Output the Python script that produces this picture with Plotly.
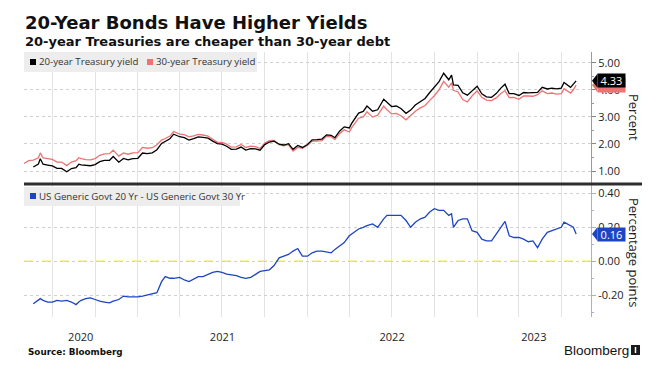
import plotly.graph_objects as go
import pandas as pd

# ---------------- data ----------------
dates = [
    "2020-05-01", "2020-05-11", "2020-05-21", "2020-06-01", "2020-06-05", "2020-06-11", "2020-06-21", "2020-07-01", "2020-07-11", "2020-07-21",
    "2020-08-01", "2020-08-11", "2020-08-21", "2020-08-27", "2020-09-01", "2020-09-11", "2020-09-21", "2020-10-01", "2020-10-11", "2020-10-21",
    "2020-11-01", "2020-11-09", "2020-11-21", "2020-12-01", "2020-12-11", "2020-12-21", "2021-01-01", "2021-01-11", "2021-01-21", "2021-02-01",
    "2021-02-11", "2021-02-21", "2021-03-01", "2021-03-11", "2021-03-19", "2021-04-01", "2021-04-11", "2021-04-21", "2021-05-01", "2021-05-11",
    "2021-05-21", "2021-06-01", "2021-06-11", "2021-06-21", "2021-07-01", "2021-07-11", "2021-07-21", "2021-08-01", "2021-08-11", "2021-08-21",
    "2021-09-01", "2021-09-11", "2021-09-21", "2021-10-01", "2021-10-11", "2021-10-21", "2021-11-01", "2021-11-11", "2021-11-21", "2021-12-01",
    "2021-12-11", "2021-12-21", "2022-01-01", "2022-01-11", "2022-01-21", "2022-02-01", "2022-02-11", "2022-02-21", "2022-03-01", "2022-03-11",
    "2022-03-21", "2022-04-01", "2022-04-06", "2022-04-11", "2022-04-21", "2022-05-01", "2022-05-09", "2022-05-21", "2022-06-01", "2022-06-14",
    "2022-06-21", "2022-07-01", "2022-07-11", "2022-07-21", "2022-08-01", "2022-08-11", "2022-08-21", "2022-09-01", "2022-09-11", "2022-09-21",
    "2022-10-01", "2022-10-11", "2022-10-21", "2022-11-01", "2022-11-07", "2022-11-11", "2022-11-21", "2022-12-01", "2022-12-11", "2022-12-21",
    "2023-01-01", "2023-01-11", "2023-01-21", "2023-02-01", "2023-02-11", "2023-02-21", "2023-03-02", "2023-03-11", "2023-03-21", "2023-04-01",
    "2023-04-11", "2023-04-21", "2023-05-01", "2023-05-11", "2023-05-21", "2023-06-01", "2023-06-11", "2023-06-21", "2023-07-01", "2023-07-07",
    "2023-07-21", "2023-07-27", "2023-08-02",
]

yield_30y = [
    1.28, 1.38, 1.40, 1.49, 1.67, 1.48, 1.46, 1.43, 1.33, 1.33,
    1.20, 1.33, 1.38, 1.49, 1.46, 1.42, 1.41, 1.46, 1.58, 1.63,
    1.64, 1.77, 1.55, 1.67, 1.62, 1.67, 1.68, 1.87, 1.84, 1.86,
    1.97, 2.14, 2.20, 2.29, 2.46, 2.36, 2.34, 2.26, 2.30, 2.35,
    2.33, 2.29, 2.17, 2.07, 2.06, 1.99, 1.88, 1.89, 1.98, 1.87,
    1.92, 1.90, 1.83, 2.03, 2.12, 2.13, 1.97, 1.93, 1.97, 1.74,
    1.87, 1.84, 1.95, 2.10, 2.10, 2.12, 2.28, 2.27, 2.16, 2.38,
    2.52, 2.44, 2.60, 2.73, 2.95, 3.00, 3.19, 2.99, 3.06, 3.40,
    3.26, 3.11, 3.13, 3.04, 2.89, 3.05, 3.21, 3.33, 3.42, 3.61,
    3.78, 4.00, 4.31, 4.10, 4.26, 3.98, 3.92, 3.64, 3.55, 3.77,
    3.96, 3.72, 3.62, 3.60, 3.70, 3.86, 3.97, 3.71, 3.72, 3.65,
    3.77, 3.77, 3.76, 3.82, 3.96, 3.86, 3.88, 3.84, 3.86, 4.04,
    3.88, 4.00, 4.17,
]

yield_20y = [
    None, None, 1.15, 1.26, 1.45, 1.25, 1.22, 1.19, 1.10, 1.095,
    0.97, 1.09, 1.125, 1.25, 1.23, 1.20, 1.195, 1.235, 1.345, 1.39,
    1.395, 1.535, 1.325, 1.465, 1.41, 1.46, 1.47, 1.665, 1.64, 1.67,
    1.785, 2.02, 2.11, 2.19, 2.36, 2.265, 2.23, 2.14, 2.195, 2.26,
    2.24, 2.215, 2.105, 2.01, 1.995, 1.915, 1.80, 1.805, 1.885, 1.77,
    1.825, 1.82, 1.77, 1.975, 2.07, 2.105, 1.99, 1.96, 2.01, 1.80,
    1.945, 1.87, 1.98, 2.15, 2.16, 2.18, 2.335, 2.32, 2.23, 2.47,
    2.63, 2.59, 2.76, 2.90, 3.14, 3.20, 3.40, 3.21, 3.26, 3.65,
    3.53, 3.38, 3.40, 3.31, 3.13, 3.25, 3.44, 3.58, 3.68, 3.90,
    4.09, 4.30, 4.61, 4.37, 4.54, 4.18, 4.16, 3.89, 3.80, 3.95,
    4.13, 3.85, 3.74, 3.72, 3.86, 4.06, 4.205, 3.86, 3.86, 3.79,
    3.90, 3.885, 3.88, 3.90, 4.09, 4.03, 4.06, 4.03, 4.06, 4.27,
    4.09, 4.20, 4.33,
]

spread_20_30 = [
    None, None, -0.25, -0.23, -0.22, -0.23, -0.24, -0.24, -0.23, -0.235,
    -0.23, -0.24, -0.255, -0.24, -0.23, -0.22, -0.215, -0.225, -0.235, -0.24,
    -0.245, -0.235, -0.225, -0.205, -0.21, -0.21, -0.21, -0.205, -0.20, -0.19,
    -0.185, -0.12, -0.09, -0.10, -0.10, -0.095, -0.11, -0.12, -0.105, -0.09,
    -0.09, -0.075, -0.065, -0.06, -0.065, -0.075, -0.08, -0.085, -0.095, -0.10,
    -0.095, -0.08, -0.06, -0.055, -0.05, -0.025, 0.02, 0.03, 0.04, 0.06,
    0.075, 0.03, 0.03, 0.05, 0.06, 0.06, 0.055, 0.05, 0.07, 0.09,
    0.11, 0.15, 0.16, 0.17, 0.19, 0.20, 0.21, 0.22, 0.20, 0.25,
    0.27, 0.27, 0.27, 0.27, 0.24, 0.20, 0.23, 0.25, 0.26, 0.29,
    0.31, 0.30, 0.30, 0.27, 0.28, 0.20, 0.24, 0.25, 0.25, 0.18,
    0.17, 0.13, 0.12, 0.12, 0.16, 0.20, 0.235, 0.15, 0.14, 0.14,
    0.13, 0.115, 0.12, 0.08, 0.13, 0.17, 0.18, 0.19, 0.20, 0.23,
    0.21, 0.20, 0.16,
]

years = ["2020", "2021", "2022", "2023"]
top_ticks = [1, 2, 3, 4, 5]
bottom_ticks = [-0.2, 0.0, 0.2, 0.4]

# ---------------- layout helpers ----------------
# the page body keeps its default 8px margin, so the figure is drawn 8px in
# from the top-left corner; positions below are given in window pixels.
OFF = 8
W, H = 666 - OFF, 374 - OFF
def fx(p):
    return (p - OFF) / W
def fy(p):
    return 1 - (p - OFF) / H

x_range = ["2020-05-01", "2023-09-03"]
top_range = [0.557, 5.395]
bot_range = [-0.328, 0.449]
top_dom = [fy(183), fy(52)]
bot_dom = [fy(317), fy(185)]
x_dom = [fx(24), fx(591)]

BLACK = "#000000"
RED = "#ee7272"
BLUE = "#1d45c2"
YELLOW = "#f3e84e"
TICKFONT = dict(family="Open Sans", size=11, color="#222222")

# year label positions: centre of each visible calendar year
r0, r1 = pd.Timestamp(x_range[0]), pd.Timestamp(x_range[1])
year_centers = []
for y in years:
    a = max(pd.Timestamp(f"{y}-01-01"), r0)
    b = min(pd.Timestamp(f"{int(y)+1}-01-01"), r1)
    year_centers.append((a + (b - a) / 2).strftime("%Y-%m-%d"))

fig = go.Figure()
fig.add_trace(go.Scatter(x=dates, y=yield_30y, mode="lines", line=dict(color=RED, width=1.3),
                         xaxis="x", yaxis="y", name="30-year Treasury yield"))
fig.add_trace(go.Scatter(x=dates, y=yield_20y, mode="lines", line=dict(color=BLACK, width=1.3),
                         xaxis="x", yaxis="y", name="20-year Treasury yield"))
fig.add_trace(go.Scatter(x=dates, y=spread_20_30, mode="lines", line=dict(color=BLUE, width=1.3),
                         xaxis="x", yaxis="y2", name="US Generic Govt 20 Yr - US Generic Govt 30 Yr"))

fig.update_layout(
    width=W, height=H, autosize=False,
    margin=dict(l=0, r=0, t=0, b=0),
    paper_bgcolor="white", plot_bgcolor="white",
    showlegend=False,
    xaxis=dict(
        domain=x_dom, range=x_range, type="date", anchor="y2",
        showgrid=False, zeroline=False, showline=False,
        tickmode="array", tickvals=year_centers, ticktext=years,
        ticks="outside", ticklen=10, tickcolor="rgba(0,0,0,0)",
        tickfont=TICKFONT,
        minor=dict(dtick="M3", tick0="2020-07-01", showgrid=True, gridcolor="#e3e3e3", gridwidth=1, ticks=""),
    ),
    yaxis=dict(
        domain=top_dom, range=top_range, anchor="x", side="right",
        tickvals=top_ticks, ticktext=[f"{v:.2f}" for v in top_ticks],
        ticks="outside", ticklen=4, tickcolor="#888888",
        showline=True, linecolor="#9a9a9a", linewidth=1,
        showgrid=True, gridcolor="#cfcfcf", griddash="dot", gridwidth=1,
        zeroline=False, tickfont=TICKFONT,
        minor=dict(ticks="outside", ticklen=2, dtick=0.5, tick0=0, tickcolor="#9a9a9a", showgrid=False),
    ),
    yaxis2=dict(
        domain=bot_dom, range=bot_range, anchor="x", side="right",
        tickvals=bottom_ticks, ticktext=[f"{v:.2f}" for v in bottom_ticks],
        ticks="outside", ticklen=4, tickcolor="#9fb2d8",
        showline=True, linecolor="#9fb2d8", linewidth=1,
        showgrid=True, gridcolor="#cfcfcf", griddash="dot", gridwidth=1,
        zeroline=False, tickfont=TICKFONT,
        minor=dict(ticks="outside", ticklen=2, dtick=0.1, tick0=0, tickcolor="#9fb2d8", showgrid=False),
    ),
)

shapes = []
# yellow dashed zero line in the spread panel
shapes.append(dict(type="line", xref="paper", yref="y2", x0=x_dom[0], x1=x_dom[1], y0=0, y1=0,
                   line=dict(color=YELLOW, width=1.6, dash="dash"), layer="between"))
# separator between panels
shapes.append(dict(type="line", xref="paper", yref="paper", x0=fx(24), x1=fx(642), y0=fy(184), y1=fy(184),
                   line=dict(color="#2e2e2e", width=3)))
# legend boxes
shapes.append(dict(type="rect", xref="paper", yref="paper", x0=fx(24), x1=fx(257), y0=fy(72), y1=fy(52),
                   fillcolor="#ededed", line=dict(width=0), layer="above"))
shapes.append(dict(type="rect", xref="paper", yref="paper", x0=fx(24), x1=fx(240), y0=fy(206), y1=fy(187),
                   fillcolor="#ededed", line=dict(width=0), layer="above"))
# legend squares
for (x0, yc, col) in [(30, 62, BLACK), (147, 62, RED), (30, 196, BLUE)]:
    shapes.append(dict(type="rect", xref="paper", yref="paper", x0=fx(x0), x1=fx(x0 + 6), y0=fy(yc + 3), y1=fy(yc - 3),
                       fillcolor=col, line=dict(width=0), layer="above"))

# end-of-series value tags (pointer triangles; boxes are annotations)
top_pxu = (top_dom[1] - top_dom[0]) * H / (top_range[1] - top_range[0])
bot_pxu = (bot_dom[1] - bot_dom[0]) * H / (bot_range[1] - bot_range[0])
tags = [(yield_30y[-1], "y", top_pxu, RED, False),
        (yield_20y[-1], "y", top_pxu, BLACK, True),
        (spread_20_30[-1], "y2", bot_pxu, BLUE, True)]
for v, yr, pxu, col, _ in tags:
    dh = 7 / pxu
    shapes.append(dict(type="path", xref="paper", yref=yr,
                       path=f"M {fx(592)},{v} L {fx(597.5)},{v + dh} L {fx(597.5)},{v - dh} Z",
                       fillcolor=col, line=dict(width=0), layer="above"))

# Bloomberg icon
shapes.append(dict(type="rect", xref="paper", yref="paper", x0=fx(631), x1=fx(640), y0=fy(355), y1=fy(345),
                   fillcolor="#1a1a1a", line=dict(width=0)))
shapes.append(dict(type="line", xref="paper", yref="paper", x0=fx(635.5), x1=fx(635.5), y0=fy(353), y1=fy(347),
                   line=dict(color="white", width=1.5)))
fig.update_layout(shapes=shapes)

ann = []
ann.append(dict(text="<b>20-Year Bonds Have Higher Yields</b>", x=fx(23), y=fy(22), xanchor="left", yanchor="middle",
                font=dict(family="DejaVu Sans", size=18, color="#111111")))
ann.append(dict(text="<b>20-year Treasuries are cheaper than 30-year debt</b>", x=fx(23), y=fy(41.5), xanchor="left", yanchor="middle",
                font=dict(family="DejaVu Sans", size=13, color="#111111")))
LEGFONT = dict(family="Open Sans", size=9.7, color="#333333")
ann.append(dict(text="20-year Treasury yield", x=fx(36.5), y=fy(62), xanchor="left", yanchor="middle", font=LEGFONT))
ann.append(dict(text="30-year Treasury yield", x=fx(153.5), y=fy(62), xanchor="left", yanchor="middle", font=LEGFONT))
ann.append(dict(text="US Generic Govt 20 Yr - US Generic Govt 30 Yr", x=fx(36.5), y=fy(196), xanchor="left", yanchor="middle", font=LEGFONT))
ann.append(dict(text="Percent", textangle=90, x=fx(634), y=fy(117), xanchor="center", yanchor="middle",
                font=dict(family="Open Sans", size=13, color="#222222")))
ann.append(dict(text="Percentage points", textangle=90, x=fx(634), y=fy(252), xanchor="center", yanchor="middle",
                font=dict(family="Open Sans", size=13, color="#222222")))
for v, yr, pxu, col, show_text in tags:
    ann.append(dict(text=f"{v:.2f}" if show_text else " ", x=fx(597), y=v, xref="paper", yref=yr,
                    xanchor="left", yanchor="middle",
                    width=27, height=13, borderpad=0, bgcolor=col, showarrow=False,
                    font=dict(family="Open Sans", size=11, color="white")))
ann.append(dict(text="<b>Source: Bloomberg</b>", x=fx(26), y=fy(352), xanchor="left", yanchor="middle",
                font=dict(family="DejaVu Sans", size=8.8, color="#111111")))
ann.append(dict(text="Bloomberg", x=fx(562), y=fy(350), xanchor="left", yanchor="middle",
                font=dict(family="Liberation Sans", size=13.5, color="#111111")))
for a in ann:
    a.setdefault("xref", "paper")
    a.setdefault("yref", "paper")
    a.setdefault("showarrow", False)
fig.update_layout(annotations=ann)

fig.write_html("out.html")
